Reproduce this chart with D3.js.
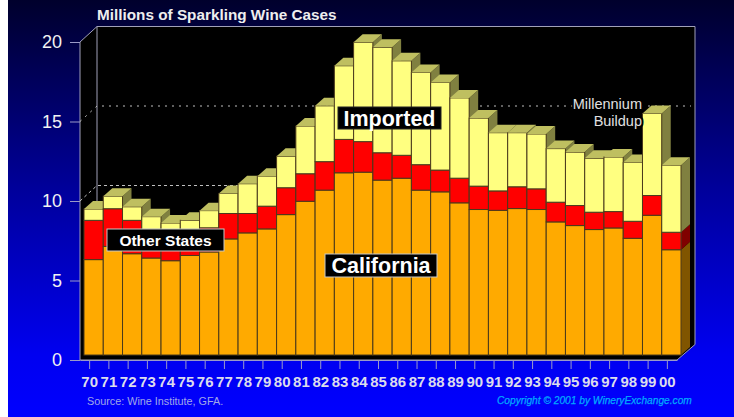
<!DOCTYPE html>
<html>
<head>
<meta charset="utf-8">
<script src="https://cdn.jsdelivr.net/npm/d3@7"></script>
<style>
  html, body { margin: 0; padding: 0; background: #fff; }
  svg { display: block; font-family: "Liberation Sans", Arial, sans-serif; }
</style>
</head>
<body>
<div id="chart"></div>
<script>
// values, millions of cases
var years = ["70","71","72","73","74","75","76","77","78","79","80","81","82","83","84","85",
             "86","87","88","89","90","91","92","93","94","95","96","97","98","99","00"];
var california = [6.0,6.83,6.37,6.1,5.93,6.26,6.48,7.3,7.68,7.93,8.83,9.67,10.37,11.46,11.5,11.0,
                  11.12,10.37,10.26,9.57,9.15,9.1,9.21,9.15,8.37,8.14,7.89,7.99,7.34,8.79,6.62];
var otherStates = [2.47,2.37,2.1,1.8,1.77,1.64,1.52,1.6,1.22,1.43,1.69,1.73,1.79,2.1,1.92,1.72,
                   1.44,1.6,1.37,1.55,1.47,1.22,1.37,1.3,1.24,1.26,1.09,1.03,1.07,1.24,1.1];
var imported = [0.71,0.79,0.85,0.8,0.6,0.57,1.08,1.26,1.87,1.89,1.98,3.0,3.51,4.63,6.25,6.63,
                5.94,5.8,5.51,5.05,4.28,3.66,3.4,3.45,3.37,3.36,3.39,3.43,3.7,5.16,4.22];
var yTicks = [0,5,10,15,20];
var gridValues = [10,15];
var seriesKeys = ["california","otherStates","imported"];

var width = 734, height = 417;

// front plane of the fake 3d box
var left = 80, right = 677, bottom = 360, top_ = 42;
var wallDx = 17, wallDy = -15.5;   // back wall offset
var barDx = 4, barDy = -5;         // where the bars stand on the floor
var depthDx = 9, depthDy = -8;     // bar depth

var colors = {
  california: {front: "#ffaa00", side: "#805500"},
  otherStates: {front: "#ff0000", side: "#800000"},
  imported: {front: "#ffff80", side: "#808040", top: "#bfbf60"}
};

var x_scale = d3.scaleBand().domain(years).range([left, right]);
var y_scale = d3.scaleLinear().domain([0, 20]).range([bottom, top_]);

var svg = d3.select("#chart").append("svg")
  .attr("width", width)
  .attr("height", height);

var grad = svg.append("defs").append("linearGradient")
  .attr("id", "bg")
  .attr("x1", 0).attr("y1", 0).attr("x2", 0).attr("y2", 1);
grad.append("stop").attr("offset", "0%").attr("stop-color", "#00002c");
grad.append("stop").attr("offset", "45%").attr("stop-color", "#00009a");
grad.append("stop").attr("offset", "85%").attr("stop-color", "#0000f0");
grad.append("stop").attr("offset", "100%").attr("stop-color", "#0000ff");

svg.append("rect")
  .attr("x", 8).attr("y", 0)
  .attr("width", width - 8).attr("height", height)
  .attr("fill", "url(#bg)");

// box: black walls and floor, grey outline
var wallLine = "#a0a0b8";
var backX0 = left + wallDx, backX1 = right + wallDx + 1, backTop = top_ + wallDy, backBottom = bottom + wallDy;
var outline = [[left, top_], [backX0, backTop], [backX1, backTop], [backX1, backBottom], [right, bottom], [left, bottom]];
svg.append("polygon")
  .attr("points", outline.join(" "))
  .attr("fill", "#000")
  .attr("stroke", wallLine)
  .attr("stroke-width", 1);
svg.append("line")
  .attr("x1", backX0).attr("x2", backX0)
  .attr("y1", backTop).attr("y2", backBottom)
  .attr("stroke", wallLine);

// dotted gridlines on left and back wall
gridValues.forEach(function(v) {
  var gy = y_scale(v);
  svg.append("polyline")
    .attr("points", [[left, gy], [backX0, gy + wallDy], [backX1 - 4, gy + wallDy]].join(" "))
    .attr("fill", "none")
    .attr("stroke", "#c0c0c0")
    .attr("stroke-dasharray", v == 10 ? "3,3" : "2,5");
});

// stack the series, draw each column left to right so the next one covers the side face
var rows = years.map(function(y, i) {
  return {year: y, california: california[i], otherStates: otherStates[i], imported: imported[i]};
});
var stacked = d3.stack().keys(seriesKeys)(rows);
var edge = "#4a3a1c";

var barLayer = svg.append("g").attr("class", "bars");
years.forEach(function(yr, i) {
  var x0 = x_scale(yr) + barDx, x1 = x0 + x_scale.bandwidth();
  var g = barLayer.append("g");

  stacked.forEach(function(layer) {
    var c = colors[layer.key];
    var y0 = y_scale(layer[i][0]) + barDy, y1 = y_scale(layer[i][1]) + barDy;

    g.append("polygon")
      .attr("points", [[x1, y0], [x1 + depthDx, y0 + depthDy], [x1 + depthDx, y1 + depthDy], [x1, y1]].join(" "))
      .attr("fill", c.side);
    g.append("rect")
      .attr("x", x0).attr("y", y1)
      .attr("width", x1 - x0).attr("height", y0 - y1)
      .attr("fill", c.front)
      .attr("stroke", edge)
      .attr("stroke-width", 1);

    if (c.top) {
      g.append("polygon")
        .attr("points", [[x0, y1], [x0 + depthDx, y1 + depthDy], [x1 + depthDx, y1 + depthDy], [x1, y1]].join(" "))
        .attr("fill", c.top);
    }
  });
});

// axes
var axisColor = "#9a9ac8";
var yAxis = svg.append("g")
  .attr("transform", "translate(" + left + ",0)")
  .call(d3.axisLeft(y_scale).tickValues(yTicks).tickSize(10).tickPadding(8));
yAxis.select(".domain").remove();
yAxis.selectAll("line").attr("stroke", axisColor);
yAxis.selectAll("text")
  .attr("fill", "#f2f2f2")
  .style("font-family", "'Liberation Sans', Arial, sans-serif")
  .style("font-size", "18px");

var xAxis = svg.append("g")
  .attr("transform", "translate(0," + bottom + ")")
  .call(d3.axisBottom(x_scale).tickSizeInner(9).tickSizeOuter(0).tickPadding(7));
xAxis.select(".domain").attr("stroke", axisColor);
xAxis.selectAll("line").attr("stroke", axisColor);
xAxis.selectAll("text")
  .attr("fill", "#dcdcec")
  .style("font-family", "'Liberation Sans', Arial, sans-serif")
  .style("font-size", "15px")
  .style("font-weight", "bold");

// title and footer
svg.append("text")
  .attr("x", 97).attr("y", 20)
  .attr("fill", "#eeeeee")
  .style("font-size", "15.3px")
  .style("font-weight", "bold")
  .text("Millions of Sparkling Wine Cases");
svg.append("text")
  .attr("x", 87).attr("y", 405)
  .attr("fill", "#a0a8e8")
  .style("font-size", "10.8px")
  .text("Source: Wine Institute, GFA.");
svg.append("text")
  .attr("x", 497).attr("y", 404)
  .attr("fill", "#00aaff")
  .attr("stroke", "#00aaff")
  .attr("stroke-width", 0.25)
  .style("font-size", "10.2px")
  .style("font-style", "italic")
  .text("Copyright © 2001 by WineryExchange.com");

// boxed series labels
function boxLabel(txt, bx, by, bw, bh, size, border) {
  svg.append("rect")
    .attr("x", bx).attr("y", by)
    .attr("width", bw).attr("height", bh)
    .attr("fill", "#000")
    .attr("stroke", border);
  svg.append("text")
    .attr("x", bx + bw / 2).attr("y", by + bh / 2)
    .attr("dy", "0.36em")
    .attr("text-anchor", "middle")
    .attr("fill", "#fff")
    .style("font-size", size + "px")
    .style("font-weight", "bold")
    .text(txt);
}
boxLabel("Imported", 338, 107, 103, 22, 21.5, "#222");
boxLabel("Other States", 107, 229, 117, 22, 15.5, "#c8c8c8");
boxLabel("California", 325, 254, 112, 23, 21.5, "#c8c8c8");

// annotation
["Millennium", "Buildup"].forEach(function(t, i) {
  svg.append("text")
    .attr("x", 642).attr("y", 109 + i * 16.5)
    .attr("text-anchor", "end")
    .attr("fill", "#e0e0e0")
    .attr("stroke", "#000")
    .attr("stroke-width", 4)
    .attr("paint-order", "stroke")
    .style("font-size", "14.5px")
    .text(t);
});
</script>
</body>
</html>
